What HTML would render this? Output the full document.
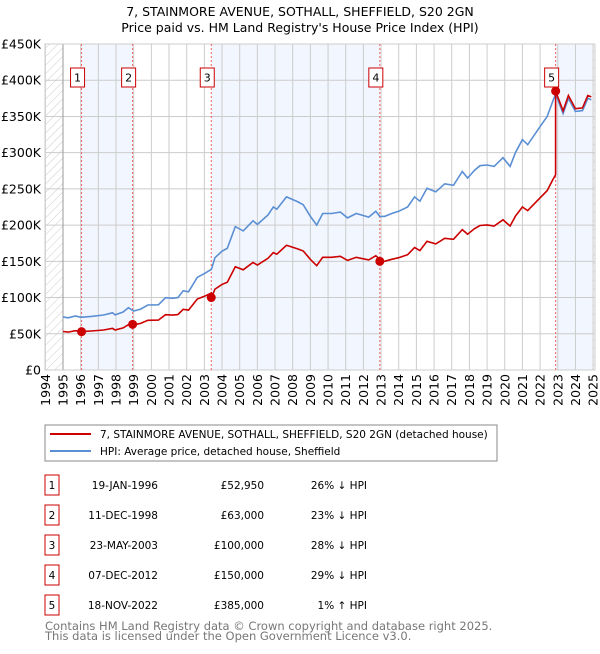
<!DOCTYPE html>
<html><head><meta charset="utf-8"><style>
body{margin:0;background:#fff;font-family:"DejaVu Sans","Liberation Sans",sans-serif;}
svg text{font-family:"DejaVu Sans","Liberation Sans",sans-serif;}
</style></head><body>
<svg id="c" width="600" height="650" xmlns="http://www.w3.org/2000/svg">
<defs><pattern id="hatch" width="6" height="6" patternUnits="userSpaceOnUse" patternTransform="rotate(45)"><line x1="0" y1="0" x2="0" y2="6" stroke="#ccc" stroke-width="1"/></pattern></defs>
<text x="300" y="16" text-anchor="middle" font-size="12.5">7, STAINMORE AVENUE, SOTHALL, SHEFFIELD, S20 2GN</text>
<text x="300" y="32" text-anchor="middle" font-size="12.5">Price paid vs. HM Land Registry's House Price Index (HPI)</text>
<g id="plot"></g>
<rect x="45" y="425" width="452" height="36" fill="#fff" stroke="#888"/>
<line x1="50" y1="434" x2="91" y2="434" stroke="#cc0000" stroke-width="2"/>
<text x="100" y="438" font-size="10.5">7, STAINMORE AVENUE, SOTHALL, SHEFFIELD, S20 2GN (detached house)</text>
<line x1="50" y1="451" x2="91" y2="451" stroke="#5b8fd4" stroke-width="2"/>
<text x="100" y="455" font-size="10.5">HPI: Average price, detached house, Sheffield</text>
<g id="table"></g>
<text x="45" y="630" font-size="11.5" fill="#777">Contains HM Land Registry data © Crown copyright and database right 2025.</text>
<text x="45" y="640" font-size="11.5" fill="#777">This data is licensed under the Open Government Licence v3.0.</text>
</svg>
<script>
const hpiYears=[1995.0,1995.3,1995.7,1996.0,1996.6,1997.3,1997.8,1997.95,1998.4,1998.7,1999.0,1999.4,1999.8,2000.4,2000.8,2001.2,2001.5,2001.8,2002.1,2002.6,2003.0,2003.4,2003.6,2004.0,2004.3,2004.75,2005.2,2005.75,2006.0,2006.6,2006.9,2007.1,2007.65,2008.3,2008.6,2009.0,2009.36,2009.7,2010.2,2010.7,2011.1,2011.6,2012.3,2012.7,2012.93,2013.2,2013.6,2014.0,2014.5,2014.9,2015.2,2015.6,2016.1,2016.6,2017.1,2017.6,2017.9,2018.3,2018.6,2019.0,2019.4,2019.9,2020.3,2020.6,2021.0,2021.3,2022.0,2022.4,2022.7,2022.88,2023.3,2023.6,2024.0,2024.4,2024.7,2024.9];
const hpiValues=[73,72,74.5,72.7,74,75.9,79,76,80,86,81.4,84,89.7,90,99.8,99,100,109.5,108,128,133,139,155,164,168,198,192,206,201,214,225,222,239,232,228,212,200,216,216,218,210,216,211,219,212,212,216,219,225,239,233,251,246,257,255,274,265,276,282,283,281,293,281,300,318,311,336,350,370,381,354,375,357,358,375,373];
const saleYears=[1996.05,1998.94,2003.39,2012.93,2022.88];
const salePrices=[52.95,63,100,150,385];
const saleLabels=["1","2","3","4","5"];
const saleDates=["19-JAN-1996","11-DEC-1998","23-MAY-2003","07-DEC-2012","18-NOV-2022"];
const salePriceText=["£52,950","£63,000","£100,000","£150,000","£385,000"];
const saleHpiText=["26% ↓ HPI","23% ↓ HPI","28% ↓ HPI","29% ↓ HPI","1% ↑ HPI"];
const yTicks=[0,50,100,150,200,250,300,350,400,450];
const yTickLabels=["£0","£50K","£100K","£150K","£200K","£250K","£300K","£350K","£400K","£450K"];
const xTicks=[1994,1995,1996,1997,1998,1999,2000,2001,2002,2003,2004,2005,2006,2007,2008,2009,2010,2011,2012,2013,2014,2015,2016,2017,2018,2019,2020,2021,2022,2023,2024,2025];

const L=45,R=595,T=44,B=370;
const xs=y=>63+(y-1995)*17.67;
const ys=v=>B-v*(B-T)/450;
const NS="http://www.w3.org/2000/svg";
const plot=document.getElementById('plot');
function mk(tag,attrs,parent){const e=document.createElementNS(NS,tag);for(const k in attrs)e.setAttribute(k,attrs[k]);(parent||plot).appendChild(e);return e;}
function hpiAt(t){if(t<=hpiYears[0])return hpiValues[0];for(let i=1;i<hpiYears.length;i++){if(t<=hpiYears[i]){const f=(t-hpiYears[i-1])/(hpiYears[i]-hpiYears[i-1]);return hpiValues[i-1]+f*(hpiValues[i]-hpiValues[i-1]);}}return hpiValues[hpiValues.length-1];}

let e=mk('rect',{x:L,y:T,width:R-L,height:B-T,fill:'#fff'});

for(let i=0;i<saleYears.length;i+=2){
 const x0=xs(saleYears[i]);const x1=i+1<saleYears.length?xs(saleYears[i+1]):xs(2025);
 e=mk('rect',{x:x0,y:T,width:x1-x0,height:B-T,fill:'#eef3fd',opacity:0.75});
 
}
e=mk('rect',{x:L,y:T,width:xs(1995)-L,height:B-T,fill:'url(#hatch)'});

e=mk('rect',{x:xs(2025),y:T,width:R-xs(2025),height:B-T,fill:'url(#hatch)'});

yTicks.forEach((v,i)=>{
 e=mk('line',{x1:L,x2:R,y1:ys(v),y2:ys(v),stroke:'#ccc','stroke-width':1});
 
 e=mk('text',{x:L-4,y:ys(v)+4.5,'text-anchor':'end','font-size':12.5});
 e.textContent=yTickLabels[i];
 
});
xTicks.forEach(yr=>{
 const x=xs(yr);
 e=mk('line',{x1:x,x2:x,y1:T,y2:B,stroke:'#ccc','stroke-width':1});
 
 e=mk('text',{x:0,y:0,'text-anchor':'end','font-size':12.5,transform:`translate(${x+4.5},${B+4}) rotate(-90)`});
 e.textContent=yr;
 
});
e=mk('line',{x1:xs(1995),x2:xs(1995),y1:T,y2:B,stroke:'#999'});

e=mk('rect',{x:L,y:T,width:R-L,height:B-T,fill:'none',stroke:'#ccc'});

saleYears.forEach(s=>{
 e=mk('line',{x1:xs(s),x2:xs(s),y1:T,y2:B,stroke:'#f06060','stroke-width':1,'stroke-dasharray':'2,2'});
 
});
let d=hpiYears.map((t,i)=>(i?'L':'M')+xs(t).toFixed(1)+','+ys(hpiValues[i]).toFixed(1)).join('');
e=mk('path',{d:d,fill:'none',stroke:'#5b8fd4','stroke-width':1.6});

const pts=[];
const times=hpiYears.concat(saleYears).sort((a,b)=>a-b);
times.forEach(t=>{
 let k=0;for(let j=0;j<saleYears.length;j++)if(t>=saleYears[j])k=j;
 pts.push([t,hpiAt(t)*salePrices[k]/hpiAt(saleYears[k])]);
 if(saleYears.indexOf(t)>0){const k0=saleYears.indexOf(t)-1;pts.splice(pts.length-1,0,[t,hpiAt(t)*salePrices[k0]/hpiAt(saleYears[k0])]);}
});
d=pts.map((p,i)=>(i?'L':'M')+xs(p[0]).toFixed(1)+','+ys(p[1]).toFixed(1)).join('');
e=mk('path',{d:d,fill:'none',stroke:'#cc0000','stroke-width':1.6});

saleYears.forEach((s,i)=>{
 e=mk('circle',{cx:xs(s),cy:ys(salePrices[i]),r:4.5,fill:'#cc0000'});
 
 const bx=xs(s)-11;
 e=mk('rect',{x:bx,y:68,width:14,height:19,fill:'#fff',stroke:'#cc0000'});
 
 e=mk('text',{x:bx+7,y:81.5,'text-anchor':'middle','font-size':11});
 e.textContent=saleLabels[i];
 
});
const tb=document.getElementById('table');
saleLabels.forEach((lab,i)=>{
 const y0=475+i*30;
 e=mk('rect',{x:45,y:y0,width:14,height:20,fill:'#fff',stroke:'#cc0000'},tb);
 
 e=mk('text',{x:52,y:y0+14,'text-anchor':'middle','font-size':10.5},tb);e.textContent=lab;
 
 e=mk('text',{x:158,y:y0+14,'text-anchor':'end','font-size':10.5},tb);e.textContent=saleDates[i];
 
 e=mk('text',{x:264,y:y0+14,'text-anchor':'end','font-size':10.5},tb);e.textContent=salePriceText[i];
 
 e=mk('text',{x:367,y:y0+14,'text-anchor':'end','font-size':10.5},tb);e.textContent=saleHpiText[i];
 
});
</script>
</body></html>
